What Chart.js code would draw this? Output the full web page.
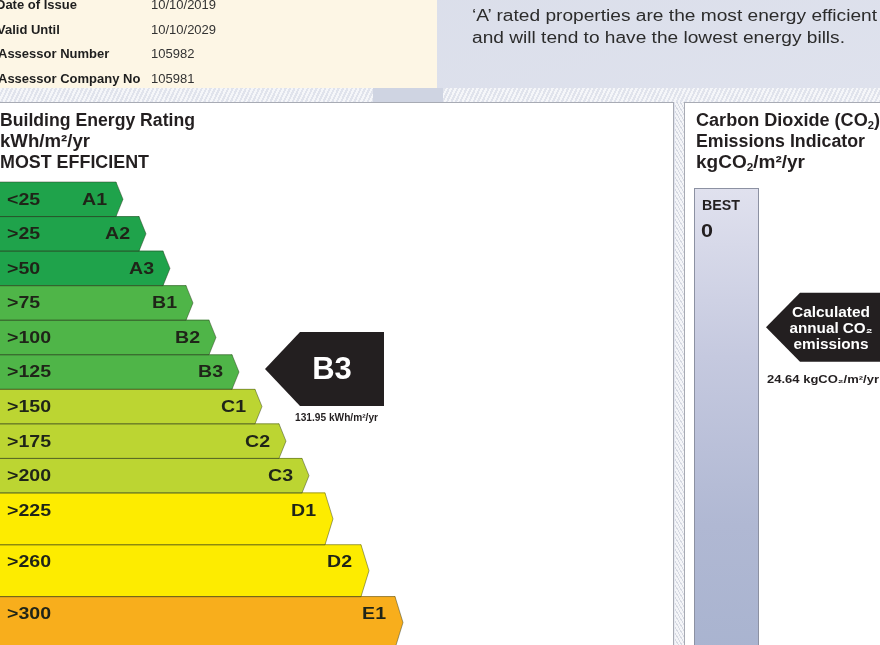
<!DOCTYPE html>
<html><head><meta charset="utf-8">
<script src="https://cdn.jsdelivr.net/npm/chart.js@4/dist/chart.umd.min.js"></script>
<style>
html,body{margin:0;padding:0;background:#fff;}
#wrap{position:relative;width:880px;height:645px;overflow:hidden;font-family:"Liberation Sans",Arial,sans-serif;
  background:linear-gradient(165deg,#d9dde9 0%,#e0e3ee 45%,#e9ecf3 100%);}
.abs{position:absolute;}
.t{position:absolute;white-space:nowrap;transform-origin:0 50%;line-height:1;color:#231f20;}
.t sub{font-size:0.62em;vertical-align:-0.25em;line-height:0;}
#c{position:absolute;left:0;top:0;}
</style></head><body>
<div id="wrap">
  <div class="abs" style="left:0;top:0;width:437px;height:88px;background:#fdf6e5;"></div>
  <div class="abs" style="left:0;top:88px;width:880px;height:14px;background:repeating-linear-gradient(115deg,#f5f6f9 0 2px,#e0e3ec 2px 4px);"></div>
  <div class="abs" style="left:373px;top:88px;width:70px;height:14px;background:#cfd4e2;"></div>
  <div class="abs" style="left:-2px;top:102px;width:674px;height:560px;background:#fff;border:1px solid #a8abb4;"></div>
  <div class="abs" style="left:675px;top:102px;width:9px;height:560px;background:repeating-linear-gradient(60deg,#f4f5f8 0 2px,#d6d9e2 2px 3px);"></div>
  <div class="abs" style="left:684px;top:102px;width:220px;height:560px;background:#fff;border:1px solid #a8abb4;"></div>
  <div class="abs" style="left:694px;top:188px;width:63px;height:480px;background:linear-gradient(180deg,#e0e1ee 0%,#c5c9df 35%,#b0b8d3 70%,#a8b3cf 100%);border:1px solid #8c91a2;"></div>
  <canvas id="c" width="880" height="645"></canvas>
</div>
<script>
// ---------- data ----------
const ratings     = ['A1','A2','A3','B1','B2','B3','C1','C2','C3','D1','D2','E1'];
const bandLabels  = ['<25','>25','>50','>75','>100','>125','>150','>175','>200','>225','>260','>300'];
const bandFloors  = [0,25,50,75,100,125,150,175,200,225,260,300];
const barLengths  = [116,139,163,186,209,232,255,279,302,325,361,395];
const berValue    = 131.95;
const co2Value    = 24.64;
const certLabels  = ['Date of Issue','Valid Until','Assessor Number','Assessor Company No'];
const certValues  = ['10/10/2019','10/10/2029','105982','105981'];

// ---------- layout / style ----------
const ROW_WEIGHTS = [1,1,1,1,1,1,1,1,1,1.5,1.5,1.5];
const BAR_COLORS  = ['#1fa34b','#1fa34b','#1fa34b','#4fb548','#4fb548','#4fb548','#bcd532','#bcd532','#bcd532','#fdec00','#fdec00','#f8ae1c'];
const FONT = '"Liberation Sans", Arial, sans-serif';

const rowCenters = []; let acc = 0;
ROW_WEIGHTS.forEach(w => { rowCenters.push(acc + w / 2); acc += w; });

// ---------- HTML text ----------
const wrap = document.getElementById('wrap');
function place(html, x, yc, size, weight, width, color) {
  const s = document.createElement('div');
  s.className = 't';
  s.innerHTML = html;
  s.style.fontSize = size + 'px';
  s.style.fontWeight = weight;
  if (color) s.style.color = color;
  s.style.left = x + 'px';
  s.style.top = (yc - size * 0.49) + 'px';
  wrap.appendChild(s);
  if (width) {
    const w = s.getBoundingClientRect().width;
    s.style.transform = 'scaleX(' + (width / w) + ')';
  }
  return s;
}
const certY = [4, 29, 53, 78];
const certX = [-4, -3, -2, -2];
certLabels.forEach((t, i) => place(t, certX[i], certY[i], 13, 'bold', null, '#1e1e1e'));
certValues.forEach((t, i) => place(t, 151, certY[i], 13, 'normal', null, '#333'));
place("‘A’ rated properties are the most energy efficient", 472, 16, 16, 'normal', 405, '#2c2c2c');
place("and will tend to have the lowest energy bills.", 472, 38, 16, 'normal', 373, '#2c2c2c');
place('Building Energy Rating', 0, 120, 18, 'bold', 195);
place('kWh/m²/yr', 0, 141, 18, 'bold', 90);
place('MOST EFFICIENT', 0, 162, 18, 'bold', 149);
place('Carbon Dioxide (CO<sub>2</sub>)', 696, 120, 18, 'bold', 184);
place('Emissions Indicator', 696, 141, 18, 'bold', 169);
place('kgCO<sub>2</sub>/m²/yr', 696, 162, 18, 'bold', 109);
place('BEST', 702, 205, 14, 'bold', 38);
place('0', 701, 231, 18, 'bold', 12);

// ---------- chart ----------
function fitText(ctx, text, x, y, font, scale, align) {
  ctx.save();
  ctx.font = font;
  ctx.translate(x, y);
  ctx.scale(scale, 1);
  ctx.textAlign = align;
  ctx.textBaseline = 'middle';
  ctx.fillText(text, 0, 0);
  ctx.restore();
}
function fitWidth(ctx, text, x, y, font, width, align) {
  ctx.save(); ctx.font = font;
  const w = ctx.measureText(text).width;
  ctx.restore();
  fitText(ctx, text, x, y, font, width / w, align);
}

function makeDataset(tall) {
  const idx = ratings.map((_, i) => i).filter(i => (ROW_WEIGHTS[i] > 1) === tall);
  return {
    data: idx.map(i => ({ x: barLengths[i], y: rowCenters[i], i: i })),
    backgroundColor: idx.map(i => BAR_COLORS[i]),
    borderWidth: 0,
    barThickness: tall ? 52 : 34.6,
    grouped: false,
    xAxisID: 'x',
    yAxisID: 'y'
  };
}

const berPlugin = {
  id: 'berMarks',
  afterDatasetsDraw(chart) {
    const ctx = chart.ctx;
    const rows = [];
    chart.data.datasets.forEach((ds, di) => {
      chart.getDatasetMeta(di).data.forEach((bar, j) => { rows[ds.data[j].i] = bar; });
    });
    rows.forEach((bar, i) => {
      const p = bar.getProps(['x', 'y', 'base', 'height'], true);
      const top = p.y - p.height / 2, bot = p.y + p.height / 2;
      const tip = p.height > 40 ? 8 : 7;
      ctx.save();
      ctx.fillStyle = BAR_COLORS[i];
      ctx.beginPath();
      ctx.moveTo(p.x - 1, top); ctx.lineTo(p.x, top); ctx.lineTo(p.x + tip, p.y);
      ctx.lineTo(p.x, bot); ctx.lineTo(p.x - 1, bot); ctx.closePath(); ctx.fill();
      ctx.strokeStyle = 'rgba(45,55,30,0.45)';
      ctx.lineWidth = 1;
      ctx.beginPath();
      ctx.moveTo(p.base - 2, top); ctx.lineTo(p.x, top); ctx.lineTo(p.x + tip, p.y);
      ctx.lineTo(p.x, bot); ctx.lineTo(p.base - 2, bot);
      ctx.stroke();
      ctx.fillStyle = '#1f2418';
      const ly = top + 18;
      fitText(ctx, bandLabels[i], 7, ly, 'bold 17px ' + FONT, 1.15, 'left');
      fitText(ctx, ratings[i], p.x - 9, ly, 'bold 17px ' + FONT, 1.15, 'right');
      ctx.restore();
    });

    // BER pointer
    let band = 0;
    bandFloors.forEach((f, i) => { if (berValue >= f) band = i; });
    const py = rows[band].getProps(['y'], true).y - 3;
    ctx.save();
    ctx.fillStyle = '#231f20';
    ctx.beginPath();
    ctx.moveTo(265, py); ctx.lineTo(300, py - 37); ctx.lineTo(384, py - 37);
    ctx.lineTo(384, py + 37); ctx.lineTo(300, py + 37); ctx.closePath(); ctx.fill();
    ctx.fillStyle = '#ffffff';
    fitText(ctx, ratings[band], 332, py + 1, 'bold 31px ' + FONT, 1, 'center');
    ctx.fillStyle = '#231f20';
    fitWidth(ctx, berValue.toFixed(2) + ' kWh/m²/yr', 295, py + 49, 'bold 10px ' + FONT, 83, 'left');

    // CO2 pointer
    const cy = chart.scales.yCO2.getPixelForValue(co2Value);
    ctx.fillStyle = '#231f20';
    ctx.beginPath();
    ctx.moveTo(766, cy); ctx.lineTo(800, cy - 34.5); ctx.lineTo(890, cy - 34.5);
    ctx.lineTo(890, cy + 34.5); ctx.lineTo(800, cy + 34.5); ctx.closePath(); ctx.fill();
    ctx.fillStyle = '#ffffff';
    fitWidth(ctx, 'Calculated', 831, cy - 14, 'bold 14px ' + FONT, 78, 'center');
    fitWidth(ctx, 'annual CO₂', 831, cy + 2, 'bold 14px ' + FONT, 83, 'center');
    fitWidth(ctx, 'emissions', 831, cy + 18, 'bold 14px ' + FONT, 75, 'center');
    ctx.fillStyle = '#231f20';
    fitWidth(ctx, co2Value.toFixed(2) + ' kgCO₂/m²/yr', 767, cy + 53, 'bold 10px ' + FONT, 112, 'left');
    ctx.restore();
  }
};

new Chart(document.getElementById('c'), {
  type: 'bar',
  data: { datasets: [makeDataset(false), makeDataset(true)] },
  options: {
    indexAxis: 'y',
    responsive: false,
    animation: false,
    devicePixelRatio: 1,
    layout: { padding: { top: 182, left: 0, right: 0, bottom: 0 } },
    scales: {
      x: { type: 'linear', min: 0, max: 880, display: false, offset: false },
      y: { type: 'linear', reverse: true, min: 0, max: 13.4, display: false, offset: false },
      yCO2: { type: 'linear', position: 'right', reverse: true, min: -12.6, max: 106.2, display: false, offset: false }
    },
    plugins: { legend: { display: false }, tooltip: { enabled: false } }
  },
  plugins: [berPlugin]
});
</script>
</body></html>
